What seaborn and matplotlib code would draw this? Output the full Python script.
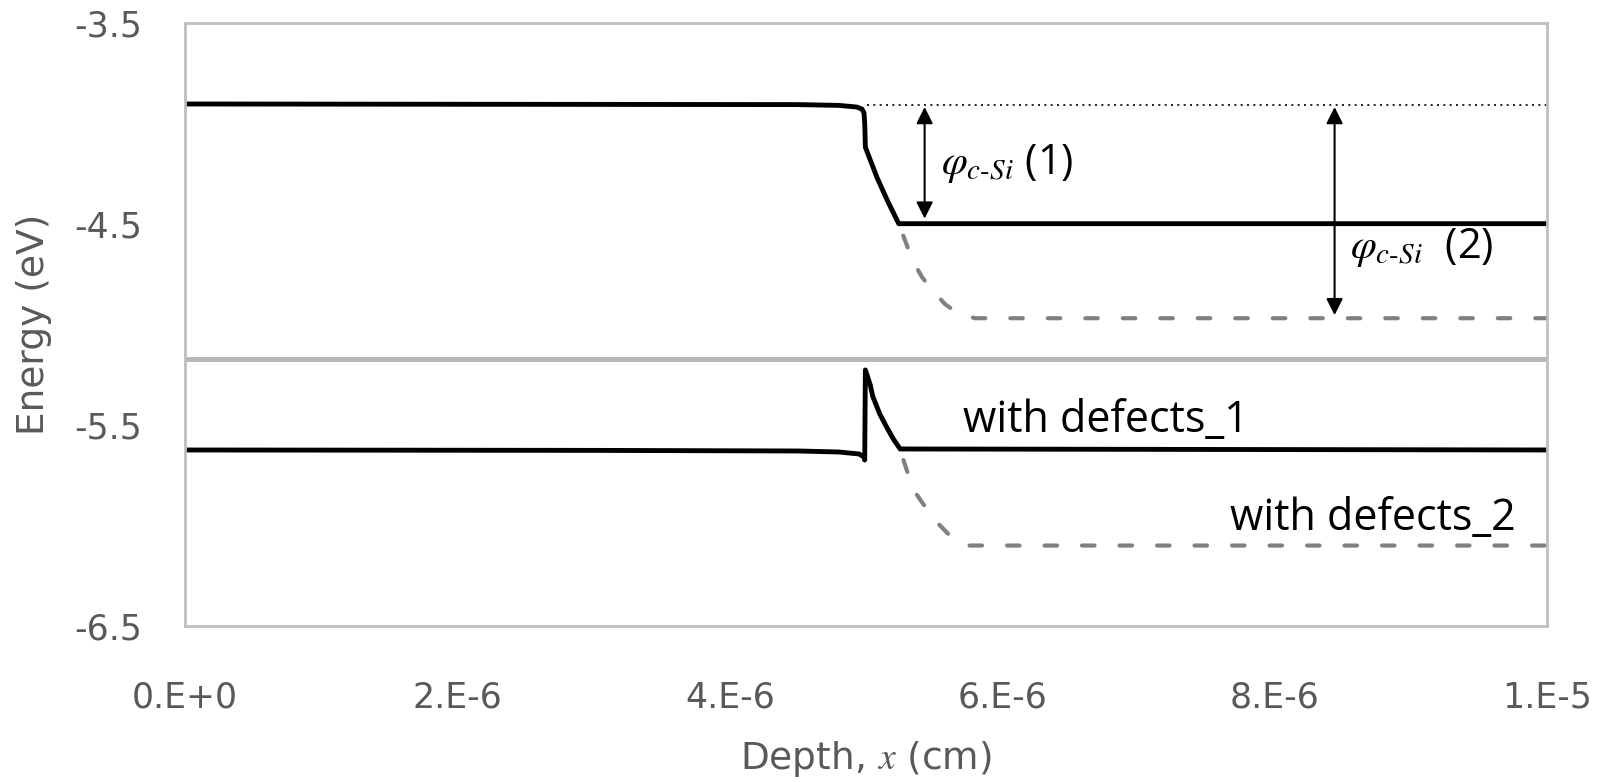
import matplotlib
matplotlib.use("Agg")
import matplotlib.pyplot as plt
import seaborn as sns

# ---- data ----
top1_x = [0, 3e-6, 4.5e-6, 4.8e-6, 4.93e-6, 4.97e-6, 4.985e-6, 4.99e-6, 4.995e-6, 5.08e-6, 5.16e-6, 5.24e-6, 1e-5]
top1_y = [-3.905, -3.907, -3.908, -3.912, -3.92, -3.93, -3.95, -4.0, -4.12, -4.27, -4.39, -4.5, -4.5]

top2_x = [5.16e-6, 5.24e-6, 5.34e-6, 5.41e-6, 5.485e-6, 5.58e-6, 5.67e-6, 5.8e-6, 1e-5]
top2_y = [-4.39, -4.5, -4.68, -4.765, -4.83, -4.90, -4.944, -4.97, -4.97]

bot1_x = [0, 3e-6, 4.5e-6, 4.8e-6, 4.95e-6, 4.985e-6, 4.99e-6, 4.995e-6, 5.03e-6, 5.05e-6, 5.10e-6, 5.15e-6, 5.2e-6, 5.25e-6, 1e-5]
bot1_y = [-5.625, -5.627, -5.63, -5.635, -5.645, -5.66, -5.675, -5.227, -5.3, -5.36, -5.445, -5.51, -5.57, -5.62, -5.625]

bot2_x = [5.15e-6, 5.25e-6, 5.345e-6, 5.49e-6, 5.6e-6, 5.67e-6, 5.75e-6, 1e-5]
bot2_y = [-5.51, -5.625, -5.82, -5.963, -6.04, -6.08, -6.1, -6.1]

ref_level = -3.91          # dotted reference level
ref_x = [5.01e-6, 1e-5]
divider_level = -5.175

arrow1 = (5.43e-6, -3.92, -4.475)
arrow2 = (8.44e-6, -3.92, -4.955)

x_ticks = [0, 2e-6, 4e-6, 6e-6, 8e-6, 1e-5]
x_labels = ["0.E+0", "2.E-6", "4.E-6", "6.E-6", "8.E-6", "1.E-5"]
y_ticks = [-6.5, -5.5, -4.5, -3.5]
y_labels = ["-6.5", "-5.5", "-4.5", "-3.5"]

# ---- style ----
sns.set_theme(style="white")
plt.rcParams['font.family'] = ['Open Sans', 'DejaVu Sans']
plt.rcParams['mathtext.fontset'] = 'stix'

fig = plt.figure(figsize=(16.01, 7.82), dpi=100)
ax = fig.add_axes([0.1156, 0.1995, 0.9663 - 0.1156, 0.9712 - 0.1995])

gray = '#595959'
spine_c = '#bfbfbf'

ax.axhline(divider_level, color='#b8b8b8', lw=3.6, zorder=1)

dash_kw = dict(color='#808080', lw=3.0, dash_capstyle='round')
sns.lineplot(x=top2_x, y=top2_y, ax=ax, estimator=None, sort=False, **dash_kw)
ax.lines[-1].set_dashes([3.0, 6.0])
sns.lineplot(x=bot2_x, y=bot2_y, ax=ax, estimator=None, sort=False, **dash_kw)
ax.lines[-1].set_dashes([3.0, 6.0])

solid_kw = dict(color='black', lw=3.5, solid_capstyle='round', solid_joinstyle='round')
sns.lineplot(x=top1_x, y=top1_y, ax=ax, estimator=None, sort=False, **solid_kw)
sns.lineplot(x=bot1_x, y=bot1_y, ax=ax, estimator=None, sort=False, **solid_kw)

ax.plot(ref_x, [ref_level, ref_level], color='black', lw=1.2, linestyle=(0, (1.2, 2.6)))

for (ax_x, y0, y1) in (arrow1, arrow2):
    ax.annotate('', xy=(ax_x, y0), xytext=(ax_x, y1),
                arrowprops=dict(arrowstyle='<|-|>', color='black', lw=1.5,
                                mutation_scale=25, shrinkA=0, shrinkB=0))

ax.text(5.55e-6, -4.2, r'$\varphi_{c\text{-}Si}$ (1)', fontsize=30, color='black', va='center', ha='left')
ax.text(8.555e-6, -4.62, r'$\varphi_{c\text{-}Si}$  (2)', fontsize=30, color='black', va='center', ha='left')
ax.text(5.71e-6, -5.48, 'with defects_1', fontsize=31, color='black', va='center', ha='left')
ax.text(7.67e-6, -5.965, 'with defects_2', fontsize=31, color='black', va='center', ha='left')

ax.set_xlim(0, 1e-5)
ax.set_ylim(-6.5, -3.5)
ax.set_xticks(x_ticks)
ax.set_xticklabels(x_labels, family='DejaVu Sans')
ax.set_yticks(y_ticks)
ax.set_yticklabels(y_labels, family='DejaVu Sans')
ax.tick_params(axis='both', length=0, labelsize=25, labelcolor=gray)
ax.tick_params(axis='y', pad=31)
ax.tick_params(axis='x', pad=39)

for s in ax.spines.values():
    s.set_visible(True)
    s.set_color(spine_c)
    s.set_linewidth(2)

ax.set_xlabel(r'Depth, $x$ (cm)', fontsize=27, color=gray, family='DejaVu Sans')
ax.set_ylabel('Energy (eV)', fontsize=27, color=gray, family='DejaVu Sans')
ax.xaxis.set_label_coords(0.5, -0.188)
ax.yaxis.set_label_coords(-0.098, 0.5)
ax.grid(False)

fig.savefig('out.png', dpi=100)
